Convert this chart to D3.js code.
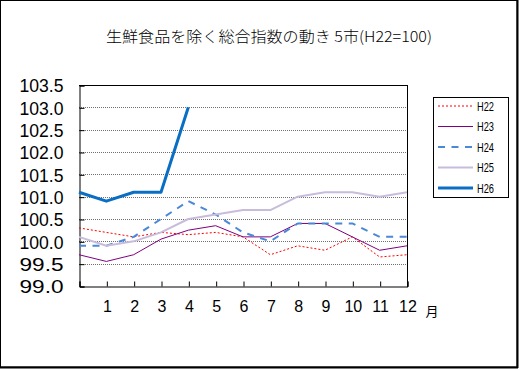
<!DOCTYPE html>
<html><head><meta charset="utf-8">
<script src="https://cdn.jsdelivr.net/npm/d3@7"></script>
<style>html,body{margin:0;padding:0;background:#fff;}svg{display:block;}</style>
</head><body>
<svg id="c" width="519" height="369"></svg>
<script>
const months = [0,1,2,3,4,5,6,7,8,9,10,11,12];
const monthLabels = ["","1","2","3","4","5","6","7","8","9","10","11","12"];
const yTicks = [99.0,99.5,100.0,100.5,101.0,101.5,102.0,102.5,103.0,103.5];
const seriesNames = ["H22","H23","H24","H25","H26"];
const H22 = [100.3,100.2,100.1,100.2,100.15,100.2,100.1,99.7,99.9,99.8,100.1,99.65,99.7];
const H23 = [99.7,99.55,99.7,100.05,100.25,100.35,100.1,100.1,100.4,100.4,100.1,99.8,99.9];
const H24 = [99.9,99.9,100.1,100.5,100.9,100.6,100.2,100.0,100.4,100.4,100.4,100.1,100.1];
const H25 = [100.1,99.9,100.0,100.2,100.5,100.6,100.7,100.7,101.0,101.1,101.1,101.0,101.1];
const H26 = [101.1,100.9,101.1,101.1,103.0];
const title = "生鮮食品を除く総合指数の動き 5市(H22=100)";

const styles = {
  H22:{color:"#ff0000", width:1, dash:"2,2"},
  H23:{color:"#800080", width:1, dash:null},
  H24:{color:"#4a88d8", width:2, dash:"7,6.5"},
  H25:{color:"#c8bcdc", width:2, dash:null},
  H26:{color:"#0a6fc4", width:3, dash:null}
};
const data = {H22,H23,H24,H25,H26};

const svg = d3.select("#c");
const L=79, R=407, T=85, B=286;
const x = d3.scaleLinear().domain([0,12]).range([L,R]);
const y = d3.scaleLinear().domain([99,103.5]).range([B,T]);

// outer frame
svg.append("rect").attr("x",0.5).attr("y",0.5).attr("width",516.5).attr("height",366.5).attr("fill","none").attr("stroke","#000");
svg.append("line").attr("x1",517.5).attr("x2",517.5).attr("y1",0).attr("y2",368).attr("stroke","#000").attr("stroke-width",2);
svg.append("line").attr("x1",0).attr("x2",518).attr("y1",367.5).attr("y2",367.5).attr("stroke","#000").attr("stroke-width",2);

// title
svg.append("text").attr("x",106).attr("y",42)
  .attr("font-family","'Noto Sans CJK JP'").attr("font-size",15).attr("font-weight",300).attr("fill","#000")
  .attr("textLength",326).attr("lengthAdjust","spacingAndGlyphs").text(title);

// gridlines
svg.append("g").selectAll("line").data(yTicks.filter(v=>v>99 && v<103.5)).join("line")
  .attr("x1",L).attr("x2",R).attr("y1",d=>Math.round(y(d))+0.5).attr("y2",d=>Math.round(y(d))+0.5)
  .attr("stroke","#707070").attr("stroke-dasharray","1,1");

// axes
const yAxis = d3.axisLeft(y).tickValues(yTicks).tickSize(-5).tickPadding(16).tickFormat(d3.format(".1f"));
const gy = svg.append("g").attr("transform",`translate(${L+0.5},0.5)`).call(yAxis);
gy.selectAll("text").attr("font-family","'Liberation Sans'").attr("font-size",18).attr("fill","#000").attr("dy","0.35em")
  .attr("textLength",44).attr("lengthAdjust","spacingAndGlyphs");
const xAxis = d3.axisBottom(x).tickValues(months).tickSize(-5).tickPadding(14).tickFormat((d,i)=>monthLabels[i]);
const gx = svg.append("g").attr("transform",`translate(0.5,${B+0.5})`).call(xAxis);
gx.selectAll("text").attr("font-family","'Liberation Sans'").attr("font-size",16).attr("fill","#000");
[gx,gy].forEach(g=>{g.select(".domain").attr("stroke","#000");g.selectAll(".tick line").attr("stroke","#000");});
// top and right border
svg.append("line").attr("x1",L).attr("x2",R+0.5).attr("y1",T+0.5).attr("y2",T+0.5).attr("stroke","#000");
svg.append("line").attr("x1",R+0.5).attr("x2",R+0.5).attr("y1",T).attr("y2",B+1).attr("stroke","#000");
svg.append("text").attr("x",432).attr("y",316).attr("text-anchor","middle")
  .attr("font-family","'Noto Sans CJK JP'").attr("font-size",13).text("月");

// lines
const line = d3.line().x((d,i)=>x(months[i])).y(d=>y(d));
seriesNames.forEach(n=>{
  const s=styles[n];
  svg.append("path").datum(data[n]).attr("d",line).attr("fill","none")
    .attr("stroke",s.color).attr("stroke-width",s.width).attr("stroke-dasharray",s.dash)
    .attr("stroke-linejoin","round");
});

// legend
svg.append("rect").attr("x",433.5).attr("y",97.5).attr("width",75).attr("height",100).attr("fill","#fff").attr("stroke","#000");
const ly = d3.scalePoint().domain(seriesNames).range([106,188]);
seriesNames.forEach(n=>{
  const s=styles[n];
  svg.append("line").attr("x1",438).attr("x2",473).attr("y1",ly(n)).attr("y2",ly(n))
    .attr("stroke",s.color).attr("stroke-width",s.width).attr("stroke-dasharray",s.dash);
  svg.append("text").attr("x",477).attr("y",ly(n)).attr("dy","0.35em")
    .attr("font-family","'Liberation Sans'").attr("font-size",13.5)
    .attr("textLength",17).attr("lengthAdjust","spacingAndGlyphs").text(n);
});
</script>
</body></html>
